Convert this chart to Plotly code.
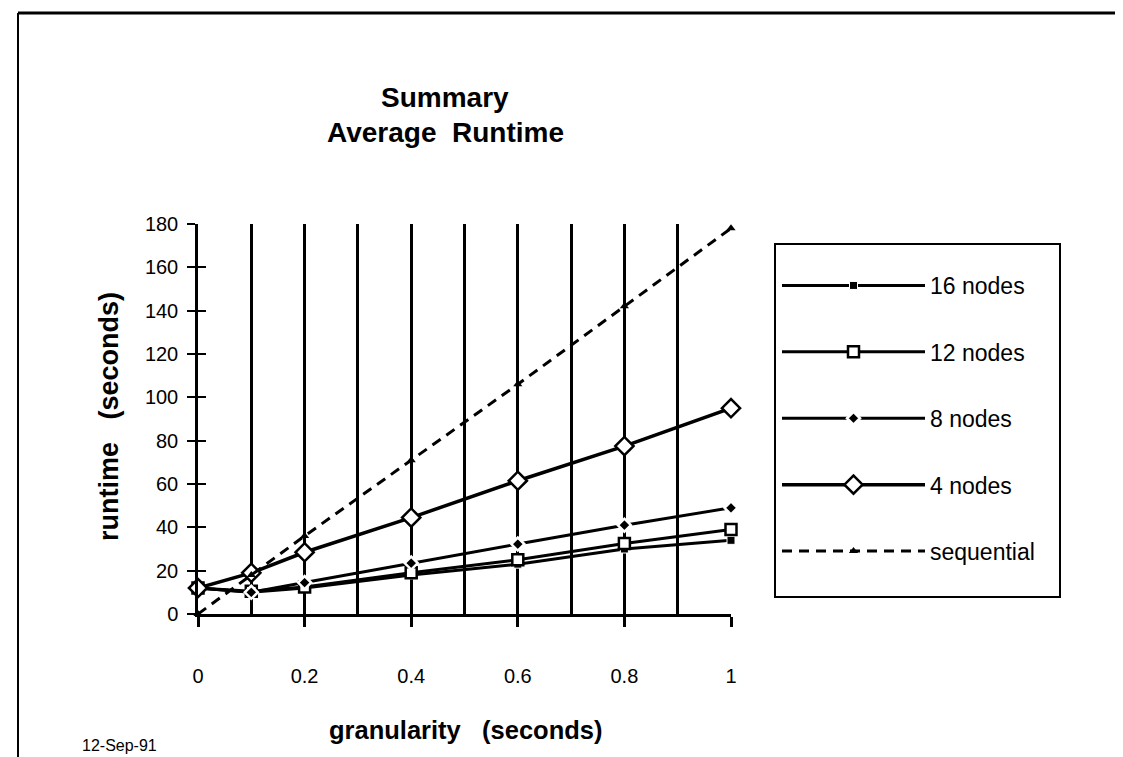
import plotly.graph_objects as go

granularity = [0, 0.1, 0.2, 0.4, 0.6, 0.8, 1.0]
nodes16 = [12, 10, 12, 18, 23, 30, 34]
nodes12 = [12, 10.5, 12.5, 19, 25, 32.5, 39]
nodes8 = [12, 10, 14.5, 23.5, 32.3, 41, 49]
nodes4 = [12, 19, 28.5, 44.5, 61.5, 77.5, 95]
sequential = [0, 18, 36, 71, 106, 142, 178]

series_names = ["16 nodes", "12 nodes", "8 nodes", "4 nodes", "sequential"]
y_ticks = [0, 20, 40, 60, 80, 100, 120, 140, 160, 180]
x_ticks = [0, 0.2, 0.4, 0.6, 0.8, 1]
x_tick_text = ["0", "0.2", "0.4", "0.6", "0.8", "1"]

FONT = "Liberation Sans, Arial, sans-serif"

# the page body adds an 8px offset; page coordinates -> paper coordinates
def px(x_page):
    return (x_page - 198) / 533

def py(y_page):
    return (614 - y_page) / 390

styles = [
    dict(line=dict(color="black", width=3),
         marker=dict(symbol="square", size=8, color="black", line=dict(color="white", width=1))),
    dict(line=dict(color="black", width=3),
         marker=dict(symbol="square", size=11, color="white", line=dict(color="black", width=2.5))),
    dict(line=dict(color="black", width=3),
         marker=dict(symbol="diamond", size=10, color="black", line=dict(color="white", width=2.5))),
    dict(line=dict(color="black", width=3.5),
         marker=dict(symbol="diamond", size=14, color="white", line=dict(color="black", width=2.5))),
    dict(line=dict(color="black", width=3, dash="10px,7px"),
         marker=dict(symbol="triangle-up", size=8, color="black")),
]

fig = go.Figure()
for name, ys, st in zip(series_names, [nodes16, nodes12, nodes8, nodes4, sequential], styles):
    fig.add_trace(go.Scatter(
        x=granularity, y=ys, name=name, mode="lines+markers",
        line=st["line"], marker=st["marker"], cliponaxis=False,
        legendgroup=name,
    ))

# invisible helper trace for the overlay axis that draws the inner half of the y tick crosses
fig.add_trace(go.Scatter(x=[granularity[0]], y=[y_ticks[0]], yaxis="y2", mode="markers",
                         marker=dict(opacity=0), showlegend=False, hoverinfo="skip"))

fig.update_layout(
    width=1115, height=749,
    paper_bgcolor="white", plot_bgcolor="white",
    margin=dict(l=190, r=392, t=216, b=143),
    font=dict(family=FONT, color="black", size=20),
    showlegend=True,
    legend=dict(
        x=px(777), y=py(264), xanchor="left", yanchor="top",
        borderwidth=0, bgcolor="rgba(0,0,0,0)",
        font=dict(size=23, family=FONT),
        itemwidth=143, tracegroupgap=33.5,
        traceorder="grouped",
    ),
    xaxis=dict(
        range=[0, 1], tickmode="array", tickvals=x_ticks, ticktext=x_tick_text,
        showline=True, linecolor="black", linewidth=2.5,
        ticks="outside", ticklen=10, tickwidth=2.5, tickcolor="black",
        showgrid=True, gridcolor="black", gridwidth=2.5,
        minor=dict(dtick=0.1, showgrid=True, gridcolor="black", gridwidth=2.5, ticks=""),
        zeroline=False, ticklabelstandoff=32,
        tickfont=dict(size=20, family=FONT),
    ),
    yaxis=dict(
        range=[0, 180], tickmode="array", tickvals=y_ticks,
        showline=True, linecolor="black", linewidth=2.5,
        ticks="outside", ticklen=8, tickwidth=2, tickcolor="black",
        showgrid=False, zeroline=False, ticklabelstandoff=5,
        tickfont=dict(size=20, family=FONT),
    ),
    yaxis2=dict(
        range=[0, 180], overlaying="y", side="left", tickmode="array", tickvals=y_ticks,
        ticks="inside", ticklen=8, tickwidth=2, tickcolor="black",
        showticklabels=False, showgrid=False, zeroline=False, showline=False,
    ),
    annotations=[
        dict(text="<b>Summary</b>", xref="paper", yref="paper", x=px(445), y=py(97),
             xanchor="center", yanchor="middle", showarrow=False, font=dict(size=28, family=FONT)),
        dict(text="<b>Average  Runtime</b>", xref="paper", yref="paper", x=px(445), y=py(133),
             xanchor="center", yanchor="middle", showarrow=False, font=dict(size=28, family=FONT)),
        dict(text="<b>granularity   (seconds)</b>", xref="paper", yref="paper", x=px(465),
             y=py(730), xanchor="center", yanchor="middle", showarrow=False,
             font=dict(size=25.5, family=FONT)),
        dict(text="<b>runtime   (seconds)</b>", xref="paper", yref="paper", x=px(109),
             y=py(417), xanchor="center", yanchor="middle", showarrow=False, textangle=-90,
             font=dict(size=27, family=FONT)),
        dict(text="12-Sep-91", xref="paper", yref="paper", x=px(80),
             y=py(745), xanchor="left", yanchor="middle", showarrow=False,
             font=dict(size=16, family=FONT)),
    ],
    shapes=[
        dict(type="line", xref="paper", yref="paper", x0=px(18), x1=px(18),
             y0=py(760), y1=py(13), line=dict(color="black", width=2)),
        dict(type="line", xref="paper", yref="paper", x0=px(18), x1=px(1125),
             y0=py(13), y1=py(13), line=dict(color="black", width=3)),
        # legend frame
        dict(type="rect", xref="paper", yref="paper", x0=px(775), x1=px(1060),
             y0=py(597), y1=py(244), line=dict(color="black", width=2), layer="below"),
    ],
)

fig.write_html("out.html")
